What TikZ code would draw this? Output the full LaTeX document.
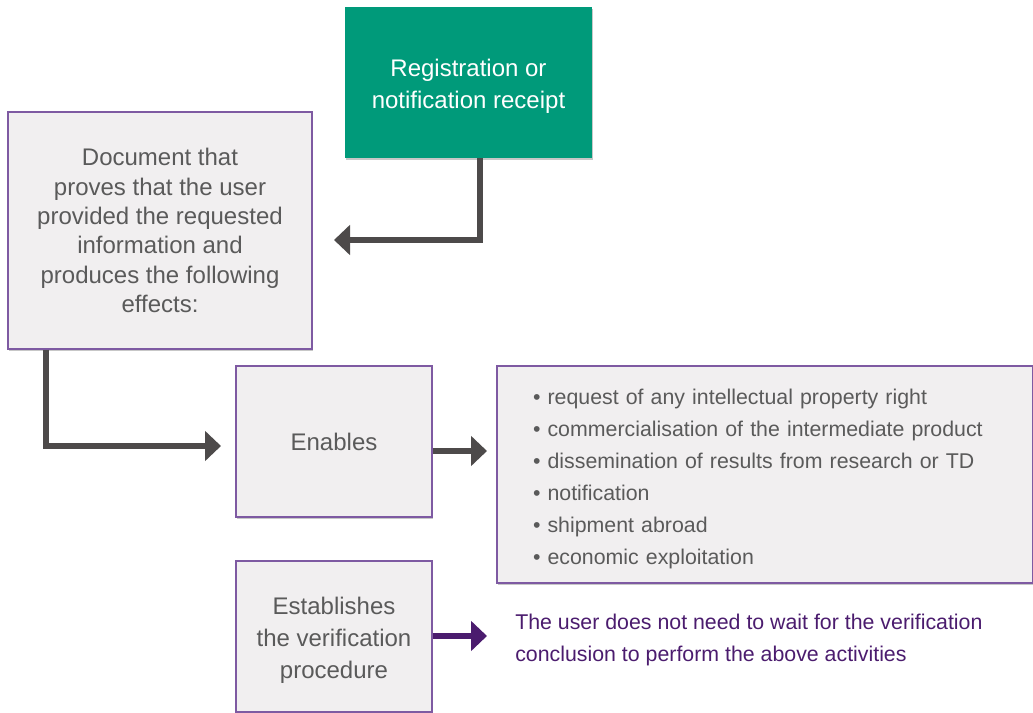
\documentclass[tikz,border=0pt]{standalone}
\usepackage{fontspec}
\setmainfont{Liberation Sans}
\usetikzlibrary{arrows.meta,shadows}
\definecolor{boxgreen}{HTML}{009A7A}
\definecolor{boxgray}{HTML}{F1EFF0}
\definecolor{boxpurple}{HTML}{7E5AA2}
\definecolor{txtgray}{HTML}{5A5A5A}
\definecolor{arrgray}{HTML}{4D4A4A}
\definecolor{deeppurple}{HTML}{4B1C6E}
\newcommand{\lowerstrut}{\rule{0pt}{19pt}}
\tikzset{
  box/.style={draw=boxpurple, line width=0.8pt, fill=boxgray, inner sep=0pt, align=center,
    text=txtgray, font=\fontsize{18}{22}\selectfont,
    drop shadow={shadow xshift=0.4pt, shadow yshift=-1.2pt, fill=black!22, opacity=1}},
  greenbox/.style={fill=boxgreen, inner sep=0pt, align=center, text=white,
    font=\fontsize{18}{24}\selectfont,
    drop shadow={shadow xshift=0.4pt, shadow yshift=-1.2pt, fill=black!22, opacity=1}},
  arr/.style={draw=arrgray, line width=4.5pt, -{Triangle[length=12pt,width=22pt]}},
  parr/.style={draw=deeppurple, line width=4.5pt, -{Triangle[length=12pt,width=22pt]}},
}
\begin{document}
\begin{tikzpicture}[x=0.75pt,y=-0.75pt]
\useasboundingbox (0,0) rectangle (1033,713);
\node[greenbox, minimum width=185.25pt, minimum height=113.25pt] (green) at (468.5,82.5)
  {\lowerstrut Registration or\\notification receipt};
\node[box, minimum width=228pt, minimum height=177.75pt] (doc) at (160,230.5)
  {Document that\\proves that the user\\provided the requested\\information and\\produces the following\\effects:};
\node[box, minimum width=147pt, minimum height=113.25pt] (enables) at (334,441.5) {Enables};
\node[box, minimum width=402pt, minimum height=162.75pt, align=left,
  font=\fontsize{16}{24}\selectfont, text width=348pt] (list) at (765,474.5)
  {\lowerstrut\textbullet\ request of any intellectual property right\\
   \textbullet\ commercialisation of the intermediate product\\
   \textbullet\ dissemination of results from research or TD\\
   \textbullet\ notification\\
   \textbullet\ shipment abroad\\
   \textbullet\ economic exploitation};
\node[box, minimum width=147pt, minimum height=113.25pt, font=\fontsize{18}{24}\selectfont] (estab) at (334,636.5)
  {\lowerstrut Establishes\\the verification\\procedure};
\node[anchor=west, inner sep=0pt, align=left, text=deeppurple, font=\fontsize{16}{24}\selectfont] (note) at (515,640)
  {The user does not need to wait for the verification\\conclusion to perform the above activities};
\coordinate (t1) at (334,240);
\coordinate (t2) at (221,446);
\coordinate (t3) at (487,451);
\coordinate (t4) at (487,636);
\draw[arr] ([xshift=8.6pt]green.south) |- (t1);
\draw[arr] ([xshift=-85.5pt]doc.south) |- (t2);
\draw[arr] (enables.east |- t3) -- (t3);
\draw[parr] (estab.east |- t4) -- (t4);
\end{tikzpicture}
\end{document}
